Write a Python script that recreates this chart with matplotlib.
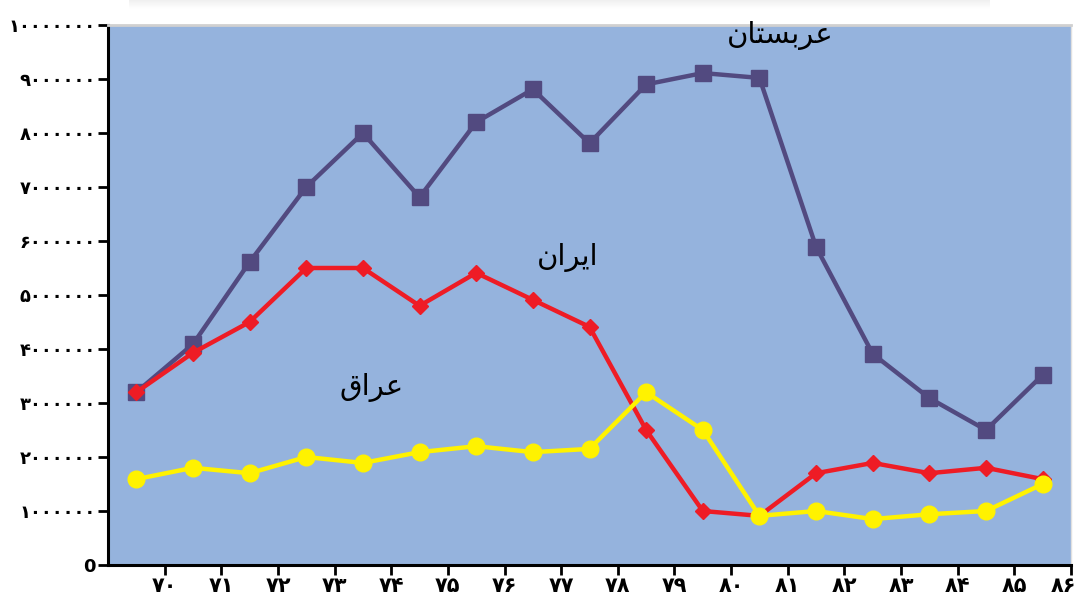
import matplotlib
matplotlib.use("Agg")
import matplotlib.pyplot as plt
import matplotlib.transforms as mtransforms
import numpy as np

years = ["۷۰", "۷۱", "۷۲", "۷۳", "۷۴", "۷۵", "۷۶", "۷۷", "۷۸", "۷۹",
         "۸۰", "۸۱", "۸۲", "۸۳", "۸۴", "۸۵", "۸۶"]
arabia = [3.2, 4.09, 5.61, 7.0, 8.0, 6.81, 8.2, 8.81, 7.81, 8.9,
          9.11, 9.02, 5.89, 3.91, 3.09, 2.5, 3.52]
iran = [3.2, 3.93, 4.5, 5.5, 5.5, 4.8, 5.41, 4.91, 4.41, 2.5,
        1.0, 0.91, 1.7, 1.89, 1.7, 1.8, 1.59]
iraq = [1.59, 1.8, 1.7, 2.0, 1.89, 2.09, 2.2, 2.09, 2.15, 3.2,
        2.5, 0.91, 1.0, 0.85, 0.94, 1.0, 1.5]
arabia = [v * 1e6 for v in arabia]
iran = [v * 1e6 for v in iran]
iraq = [v * 1e6 for v in iraq]

ytick_vals = [0, 1e6, 2e6, 3e6, 4e6, 5e6, 6e6, 7e6, 8e6, 9e6, 1e7]
ytick_labels = ["0", "۱۰۰۰۰۰۰", "۲۰۰۰۰۰۰", "۳۰۰۰۰۰۰", "۴۰۰۰۰۰۰", "۵۰۰۰۰۰۰",
                "۶۰۰۰۰۰۰", "۷۰۰۰۰۰۰", "۸۰۰۰۰۰۰", "۹۰۰۰۰۰۰", "۱۰۰۰۰۰۰۰"]

# Arabic labels written with presentation forms in visual order
lbl_arabia = "\uFEE5\uFE8E\uFE98\uFEB4\uFE91\uFEAE\uFECB"   # عربستان
lbl_iran = "\uFEE5\uFE8D\uFEAE\uFEF3\uFE8D"                  # ایران
lbl_iraq = "\uFED5\uFE8D\uFEAE\uFECB"                        # عراق

fig = plt.figure(figsize=(10.76, 5.98), dpi=100)

# faint top shadow
sh = fig.add_axes([0.12, 0.985, 0.80, 0.015])
grad = np.linspace(0.94, 1.0, 20).reshape(-1, 1)
sh.imshow(np.repeat(grad, 2, axis=1), cmap="gray", vmin=0, vmax=1,
          aspect="auto", extent=[0, 1, 0, 1])
sh.axis("off")

ax = fig.add_axes([108 / 1076, 1 - 565 / 598, (1071 - 108) / 1076, (565 - 25) / 598])
ax.set_facecolor("#95B3DD")

n = len(years)
x = np.arange(n) + 0.5

ax.plot(x, arabia, color="#524A80", lw=3.2, marker="s", ms=11.5, zorder=3)
ax.plot(x, iran, color="#EE1C25", lw=3.2, marker="D", ms=8.5, zorder=4)
ax.plot(x, iraq, color="#FFF200", lw=3.2, marker="o", ms=12, zorder=5)

ax.set_xlim(0, n)
ax.set_ylim(0, 1e7)
ax.set_xticks(np.arange(1, n + 1))
ax.set_xticklabels(years, fontsize=15, fontweight="bold", family=["DejaVu Sans"])
ax.set_yticks(ytick_vals)
ax.set_yticklabels(ytick_labels, fontsize=13, fontweight="bold", family=["DejaVu Sans"])
ax.tick_params(axis="both", direction="out", length=7, width=2, color="black")
ax.tick_params(axis="x", pad=1)
ax.tick_params(axis="y", pad=2)

# keep the last x label inside the figure
last = ax.get_xticklabels()[-1]
last.set_transform(last.get_transform() +
                   mtransforms.ScaledTranslation(-8 / 100, 0, fig.dpi_scale_trans))

for s in ["left", "bottom"]:
    ax.spines[s].set_linewidth(2.2)
    ax.spines[s].set_color("black")
ax.spines["top"].set_color("#D0D0D0")
ax.spines["top"].set_linewidth(2)
ax.spines["right"].set_color("#E0E0E0")
ax.spines["right"].set_linewidth(1)

ax.text(11.86, 9.81e6, lbl_arabia, fontsize=21, ha="center", va="center", zorder=6)
ax.text(8.12, 5.69e6, lbl_iran, fontsize=21, ha="center", va="center", zorder=6)
ax.text(4.66, 3.28e6, lbl_iraq, fontsize=21, ha="center", va="center", zorder=6)

fig.savefig("out.png", dpi=100)
